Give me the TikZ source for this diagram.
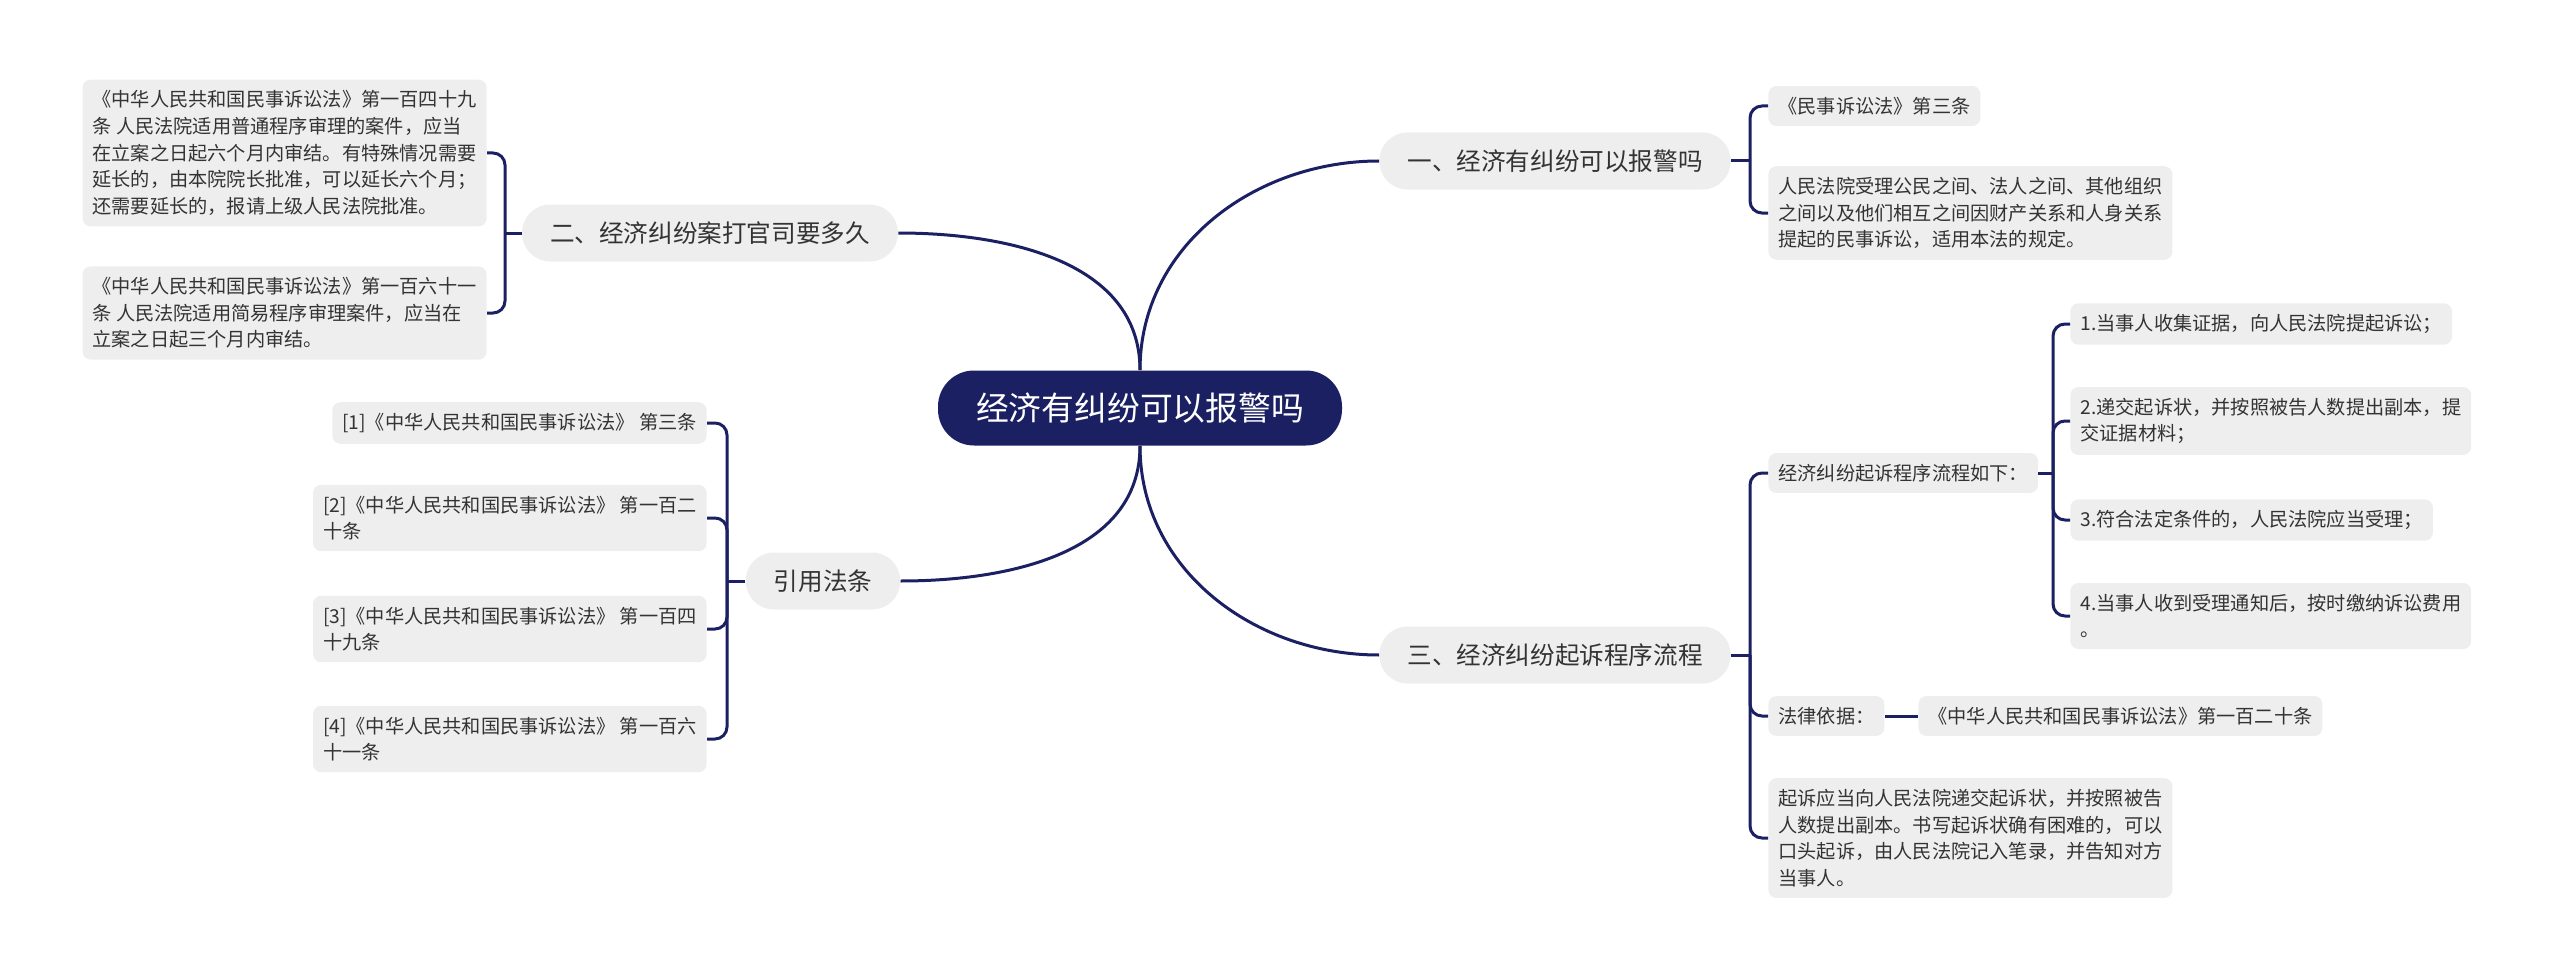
\documentclass[tikz,border=0pt]{standalone}
\usepackage{fontspec}
\setmainfont{Noto Sans CJK SC}
\definecolor{navy}{RGB}{27,32,98}
\definecolor{boxgray}{RGB}{238,238,238}
\definecolor{ink}{RGB}{51,51,51}

\begin{document}
\begin{tikzpicture}[
    x=0.5pt, y=-0.5pt,
    root/.style={fill=navy, text=white, rounded corners=18pt, minimum height=37.5pt,
      inner xsep=19pt, font=\fontsize{16.4pt}{20pt}\selectfont},
    topic/.style={fill=boxgray, text=ink, rounded corners=14pt, minimum height=28.5pt,
      inner xsep=14pt, font=\fontsize{12.3pt}{15pt}\selectfont},
    leaf/.style={fill=boxgray, text=ink, rounded corners=4pt, align=left,
      inner xsep=5pt, inner ysep=5.5pt, font=\fontsize{9.6pt}{13.3pt}\selectfont},
    link/.style={draw=navy, line width=1.5pt},
    fork/.style={link, rounded corners=6pt}
  ]
  \useasboundingbox (0,0) rectangle (2560,979);

  \node[root] (root) at (1140,408) {经济有纠纷可以报警吗};
  \node[topic] (t1) at (1555,161) {一、经济有纠纷可以报警吗};
  \node[topic] (t2) at (710,233) {二、经济纠纷案打官司要多久};
  \node[topic] (t3) at (1555,655) {三、经济纠纷起诉程序流程};
  \node[topic] (t4) at (823,581) {引用法条};

  % first topic
  \node[leaf, anchor=west] (l1a) at (1768,106) {《民事诉讼法》第三条};
  \node[leaf, anchor=west] (l1b) at (1768,213) {人民法院受理公民之间、法人之间、其他组织\\之间以及他们相互之间因财产关系和人身关系\\提起的民事诉讼，适用本法的规定。};

  % second topic
  \node[leaf, anchor=east] (l2a) at (487,153) {《中华人民共和国民事诉讼法》第一百四十九\\条 人民法院适用普通程序审理的案件，应当\\在立案之日起六个月内审结。有特殊情况需要\\延长的，由本院院长批准，可以延长六个月；\\还需要延长的，报请上级人民法院批准。};
  \node[leaf, anchor=east] (l2b) at (487,313) {《中华人民共和国民事诉讼法》第一百六十一\\条 人民法院适用简易程序审理案件，应当在\\立案之日起三个月内审结。};

  % third topic
  \node[leaf, anchor=west] (l3a) at (1768,473) {经济纠纷起诉程序流程如下：};
  \node[leaf, anchor=west] (s1) at (2070,324) {1.当事人收集证据，向人民法院提起诉讼；};
  \node[leaf, anchor=west] (s2) at (2070,421) {2.递交起诉状，并按照被告人数提出副本，提\\交证据材料；};
  \node[leaf, anchor=west] (s3) at (2070,520) {3.符合法定条件的，人民法院应当受理；};
  \node[leaf, anchor=west] (s4) at (2070,616) {4.当事人收到受理通知后，按时缴纳诉讼费用\\。};
  \node[leaf, anchor=west] (l3b) at (1768,716) {法律依据：};
  \node[leaf, anchor=west] (l3d) at (1918,716) {《中华人民共和国民事诉讼法》第一百二十条};
  \node[leaf, anchor=west] (l3c) at (1768,838) {起诉应当向人民法院递交起诉状，并按照被告\\人数提出副本。书写起诉状确有困难的，可以\\口头起诉，由人民法院记入笔录，并告知对方\\当事人。};

  % cited laws
  \node[leaf, anchor=east] (r1) at (707,423) {[1]《中华人民共和国民事诉讼法》 第三条};
  \node[leaf, anchor=east] (r2) at (707,518) {[2]《中华人民共和国民事诉讼法》 第一百二\\十条};
  \node[leaf, anchor=east] (r3) at (707,629) {[3]《中华人民共和国民事诉讼法》 第一百四\\十九条};
  \node[leaf, anchor=east] (r4) at (707,739) {[4]《中华人民共和国民事诉讼法》 第一百六\\十一条};

  \coordinate (j1) at (1750,161);
  \coordinate (j2) at (505,233);
  \coordinate (j3) at (1750,655);
  \coordinate (j4) at (727,581);
  \coordinate (j5) at (2053,473);

  \draw[link] (root.north) to[out=90, in=180] (t1.west);
  \draw[link] (root.north) to[out=90, in=0] (t2.east);
  \draw[link] (root.south) to[out=-90, in=180] (t3.west);
  \draw[link] (root.south) to[out=-90, in=0] (t4.east);

  \draw[link] (t1) -- (j1);
  \draw[fork] (j1) |- (l1a.west);
  \draw[fork] (j1) |- (l1b.west);

  \draw[link] (t2) -- (j2);
  \draw[fork] (j2) |- (l2a.east);
  \draw[fork] (j2) |- (l2b.east);

  \draw[link] (t3) -- (j3);
  \draw[fork] (j3) |- (l3a.west);
  \draw[fork] (j3) |- (l3b.west);
  \draw[fork] (j3) |- (l3c.west);
  \draw[link] (l3b) -- (l3d);

  \draw[link] (l3a) -- (j5);
  \draw[fork] (j5) |- (s1.west);
  \draw[fork] (j5) |- (s2.west);
  \draw[fork] (j5) |- (s3.west);
  \draw[fork] (j5) |- (s4.west);

  \draw[link] (t4) -- (j4);
  \draw[fork] (j4) |- (r1.east);
  \draw[fork] (j4) |- (r2.east);
  \draw[fork] (j4) |- (r3.east);
  \draw[fork] (j4) |- (r4.east);
\end{tikzpicture}
\end{document}
